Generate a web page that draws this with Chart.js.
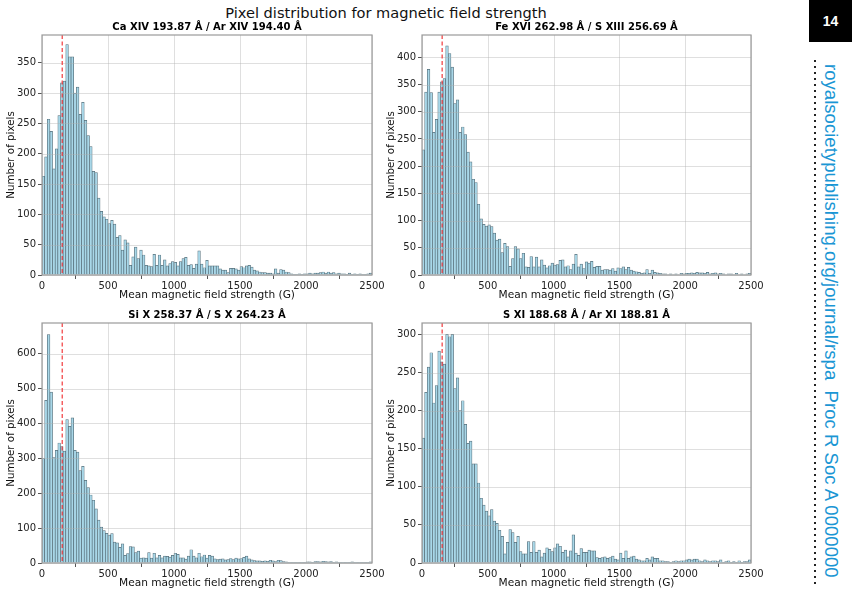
<!DOCTYPE html>
<html>
<head>
<meta charset="utf-8">
<title>Pixel distribution for magnetic field strength</title>
<script src="https://cdn.jsdelivr.net/npm/chart.js@4.4.0/dist/chart.umd.min.js"></script>
<style>
  body { margin: 0; background: #fff; width: 859px; height: 597px; position: relative; overflow: hidden; font-family: "DejaVu Sans", sans-serif; }
  .panel { position: absolute; width: 392px; height: 290px; }
  #mainTitle { position: absolute; left: 0; top: 4px; width: 772px; text-align: center; font-size: 14.6px; color: #111; }
  #pageNo { position: absolute; left: 809px; top: 0; width: 43px; height: 42px; background: #000; color: #fff; font: bold 14px "Liberation Sans", Arial, sans-serif; display: flex; align-items: center; justify-content: center; }
  #dots { position: absolute; left: 814px; top: 60px; width: 2px; height: 524px; background: repeating-linear-gradient(to bottom, #222 0 2px, transparent 2px 6px); }
  #journal { position: absolute; left: 820px; top: 64px; writing-mode: vertical-rl; color: #1a96d4; font: 18.6px "Liberation Sans", Arial, sans-serif; white-space: pre; }
</style>
</head>
<body>
<div id="mainTitle">Pixel distribution for magnetic field strength</div>
<canvas id="p1" class="panel" style="left:0;top:18px"></canvas>
<canvas id="p2" class="panel" style="left:380px;top:18px"></canvas>
<canvas id="p3" class="panel" style="left:0;top:306px"></canvas>
<canvas id="p4" class="panel" style="left:380px;top:306px"></canvas>
<div id="pageNo">14</div>
<div id="dots"></div>
<div id="journal">royalsocietypublishing.org/journal/rspa  Proc R Soc A 0000000</div>

<script>
// ===============================
// DATOS (histogramas, bins de 20 G de 0 a 2500)
// ===============================
const binWidth = 20;
const binCount = 125;
const binCenters = Array.from({ length: binCount }, (_, i) => i * binWidth + binWidth / 2);
const cutoffField = 153; // línea roja discontinua
const xTicks = [0, 500, 1000, 1500, 2000, 2500];

const countsCa14 = [
  163, 195, 257, 237, 175, 208, 263, 317, 320, 380, 360, 360, 300, 310, 265, 285, 255, 230, 212, 171, 169, 127, 105, 96, 92,
  85, 90, 84, 62, 65, 41, 58, 53, 16, 30, 46, 27, 41, 33, 16, 15, 14, 34, 16, 33, 16, 25, 15, 19, 22,
  21, 15, 22, 27, 29, 16, 17, 11, 18, 40, 18, 12, 24, 15, 15, 15, 15, 10, 8, 8, 4, 11, 11, 10, 8,
  14, 12, 15, 16, 13, 8, 7, 5, 4, 4, 3, 3, 2, 10, 3, 9, 8, 5, 4, 2, 1, 1, 2, 1, 2,
  2, 3, 2, 3, 3, 4, 5, 3, 5, 3, 4, 2, 3, 2, 2, 1, 3, 1, 2, 1, 2, 1, 1, 2, 3,
];
const countsFe16 = [
  230, 336, 378, 335, 262, 286, 336, 355, 361, 421, 407, 382, 315, 322, 262, 272, 258, 226, 208, 176, 170, 130, 103, 93, 90,
  92, 89, 77, 64, 66, 41, 58, 52, 16, 30, 52, 48, 30, 40, 15, 14, 34, 15, 33, 15, 28, 18, 13, 17, 22,
  18, 19, 27, 28, 15, 17, 10, 20, 38, 15, 20, 12, 24, 22, 25, 14, 16, 16, 9, 10, 10, 9, 12, 7, 13,
  12, 15, 10, 14, 9, 7, 6, 5, 3, 4, 10, 3, 9, 5, 4, 3, 2, 2, 1, 2, 1, 2, 1, 3, 2,
  3, 3, 4, 3, 5, 4, 4, 3, 5, 2, 3, 4, 2, 3, 2, 1, 2, 2, 1, 3, 1, 2, 1, 2, 3,
];
const countsSi10 = [
  299, 466, 655, 490, 302, 323, 344, 334, 321, 411, 392, 416, 323, 318, 265, 277, 237, 216, 195, 180, 155, 123, 103, 93, 85,
  80, 84, 60, 58, 45, 55, 22, 27, 47, 46, 30, 34, 14, 15, 14, 30, 14, 28, 15, 22, 15, 20, 19, 17, 22,
  28, 25, 15, 15, 11, 20, 38, 20, 15, 28, 18, 23, 14, 22, 20, 12, 10, 11, 12, 9, 10, 13, 10, 14, 12,
  13, 16, 20, 12, 9, 7, 6, 6, 5, 6, 5, 8, 6, 4, 8, 7, 4, 3, 2, 2, 1, 2, 1, 2, 2,
  3, 3, 2, 4, 4, 3, 5, 4, 3, 4, 2, 3, 2, 1, 2, 2, 1, 3, 1, 2, 1, 2, 1, 2, 3,
];
const countsS11 = [
  164, 224, 257, 276, 210, 233, 278, 264, 261, 300, 297, 300, 229, 243, 200, 213, 182, 157, 160, 130, 130, 105, 85, 76, 68,
  62, 70, 55, 52, 43, 35, 12, 27, 44, 40, 27, 35, 15, 12, 12, 28, 14, 28, 14, 17, 8, 13, 20, 18, 15,
  20, 25, 22, 14, 17, 8, 16, 37, 13, 10, 19, 14, 14, 17, 16, 16, 7, 6, 7, 8, 6, 7, 9, 5, 4,
  13, 6, 16, 6, 8, 9, 5, 4, 3, 3, 6, 4, 8, 6, 6, 3, 3, 2, 2, 1, 2, 3, 2, 3, 3,
  4, 5, 4, 5, 5, 3, 2, 4, 3, 2, 3, 3, 2, 4, 1, 2, 3, 1, 2, 1, 3, 1, 2, 2, 4,
];

const panelTitles = [
  "Ca XIV 193.87 Å / Ar XIV 194.40 Å",
  "Fe XVI 262.98 Å / S XIII 256.69 Å",
  "Si X 258.37 Å / S X 264.23 Å",
  "S XI 188.68 Å / Ar XI 188.81 Å",
];
const yMaxes = [396, 441, 688, 315];
const ySteps = [50, 50, 100, 50];

// ===============================
// PLUGIN: marco, línea de corte y título del panel
// ===============================
const panelDeco = {
  id: "panelDeco",
  afterDatasetsDraw(chart, args, opts) {
    const { ctx, chartArea: a, scales } = chart;
    // rejilla por encima de las barras, como en matplotlib
    ctx.save();
    ctx.strokeStyle = "rgba(176,176,176,0.5)";
    ctx.lineWidth = 0.8;
    scales.y.ticks.forEach((t) => {
      const y = Math.round(scales.y.getPixelForValue(t.value)) + 0.5;
      ctx.beginPath(); ctx.moveTo(a.left, y); ctx.lineTo(a.right, y); ctx.stroke();
    });
    scales.x.ticks.forEach((t) => {
      const x = Math.round(scales.x.getPixelForValue(t.value)) + 0.5;
      ctx.beginPath(); ctx.moveTo(x, a.top); ctx.lineTo(x, a.bottom); ctx.stroke();
    });
    const px = scales.x.getPixelForValue(opts.cutoff);
    ctx.strokeStyle = "#f0282a";
    ctx.lineWidth = 1.1;
    ctx.setLineDash([4, 2.5]);
    ctx.beginPath(); ctx.moveTo(px, a.top); ctx.lineTo(px, a.bottom); ctx.stroke();
    ctx.restore();
  },
  afterDraw(chart, args, opts) {
    const { ctx, chartArea: a } = chart;
    ctx.save();
    ctx.strokeStyle = "#9a9a9a";
    ctx.lineWidth = 1.2;
    ctx.strokeRect(a.left, a.top, a.right - a.left, a.bottom - a.top);
    ctx.fillStyle = "#000";
    ctx.font = "bold 10px 'DejaVu Sans'";
    ctx.textAlign = "center";
    ctx.textBaseline = "middle";
    ctx.fillText(opts.title, (a.left + a.right) / 2, a.top - 8);
    ctx.restore();
  },
};

// ===============================
// GRÁFICOS
// ===============================
function histograma(canvasId, counts, idx, rightPad) {
  const step = ySteps[idx];
  return new Chart(document.getElementById(canvasId), {
    type: "bar",
    data: {
      datasets: [
        {
          data: binCenters.map((x, i) => ({ x: x, y: counts[i] })),
          backgroundColor: "#a8d7e8",
          borderColor: "#566f7a",
          borderWidth: 0.7,
          barPercentage: 1,
          categoryPercentage: 1,
        },
      ],
    },
    options: {
      responsive: false,
      animation: false,
      layout: { padding: { top: 17, right: rightPad, bottom: 3, left: 0 } },
      plugins: {
        legend: { display: false },
        tooltip: { enabled: false },
        panelDeco: { cutoff: cutoffField, title: panelTitles[idx] },
      },
      scales: {
        x: {
          type: "linear",
          offset: false,
          min: 0,
          max: 2500,
          afterBuildTicks: (axis) => { axis.ticks = xTicks.map((v) => ({ value: v })); },
          afterFit: (axis) => { axis.height = 30; axis.paddingLeft = 0; axis.paddingRight = 0; },
          grid: { color: "rgba(0,0,0,0)", tickColor: "#555", tickLength: 4, drawOnChartArea: false },
          border: { display: false },
          ticks: { color: "#222", font: { family: "DejaVu Sans", size: 10 }, padding: 1, maxRotation: 0, callback: (v) => String(v) },
          title: { display: true, text: "Mean magnetic field strength (G)", color: "#111", font: { family: "DejaVu Sans", size: 10.6 }, padding: { top: 3, bottom: 3 } },
        },
        y: {
          min: 0,
          max: yMaxes[idx],
          ticks: { stepSize: step, color: "#222", font: { family: "DejaVu Sans", size: 10 }, padding: 2 },
          afterBuildTicks: (axis) => { axis.ticks = axis.ticks.filter((t) => t.value % step === 0); },
          afterFit: (axis) => { axis.width = 42; axis.paddingTop = 0; axis.paddingBottom = 0; },
          grid: { color: "rgba(0,0,0,0)", tickColor: "#555", tickLength: 4, drawOnChartArea: false },
          border: { display: false },
          title: { display: true, text: "Number of pixels", color: "#111", font: { family: "DejaVu Sans", size: 10.3 }, padding: { top: 5, bottom: 0 } },
        },
      },
    },
    plugins: [panelDeco],
  });
}

// ===============================
// INICIALIZACIÓN
// ===============================
document.querySelectorAll("canvas.panel").forEach((c) => { c.width = 392; c.height = 290; });
histograma("p1", countsCa14, 0, 20);
histograma("p2", countsFe16, 1, 21);
histograma("p3", countsSi10, 2, 20);
histograma("p4", countsS11, 3, 21);
</script>
</body>
</html>
